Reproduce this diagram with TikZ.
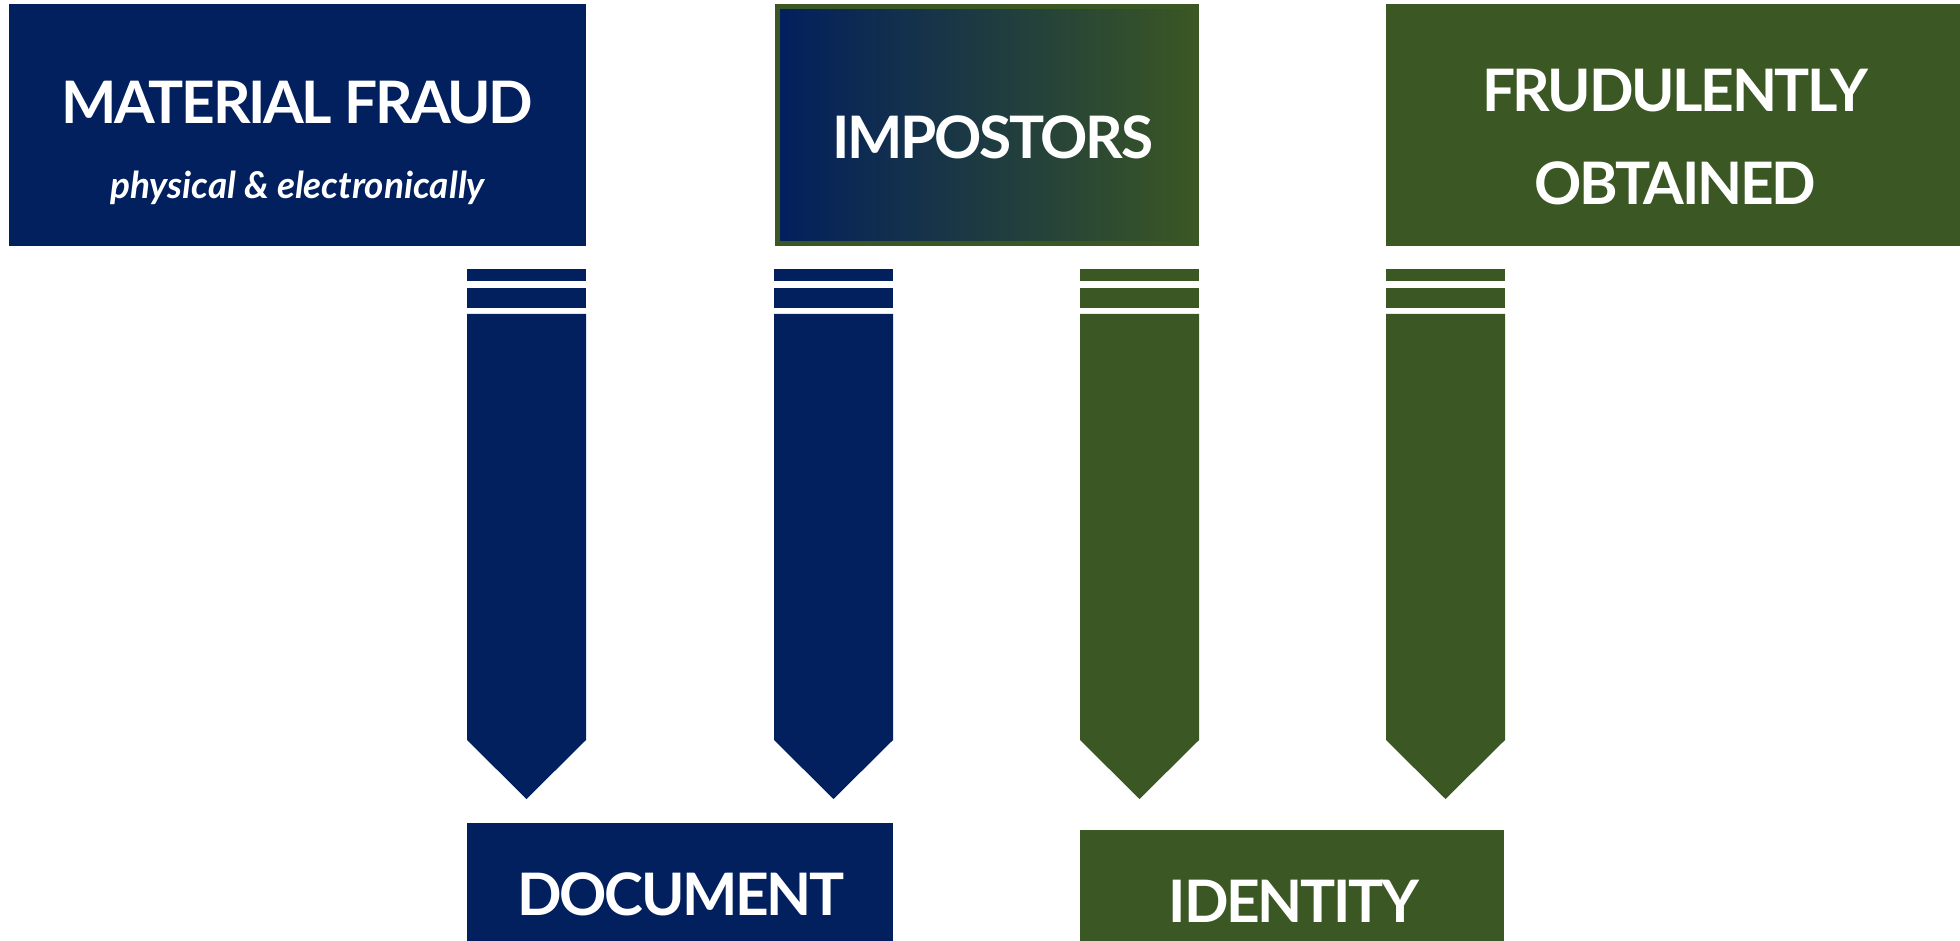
\documentclass[tikz,border=0pt]{standalone}
\usepackage{fontspec}
\setmainfont{Lato}
\definecolor{navy}{HTML}{021F5E}
\definecolor{grn}{HTML}{3A5724}
\tikzset{
  title/.style={text=white, inner sep=0pt, anchor=base, font=\bfseries\fontsize{58.6}{60}\selectfont\addfontfeatures{LetterSpace=-4}},
  subtitle/.style={text=white, inner sep=0pt, anchor=base, font=\bfseries\itshape\fontsize{37}{40}\selectfont},
  panel/.style={rectangle, inner sep=0pt, outer sep=0pt}
}
\begin{document}
\begin{tikzpicture}[x=1pt,y=-1pt]
\useasboundingbox (0,0) rectangle (1960,941);
% top boxes
\node[panel, fill=navy, minimum width=577pt, minimum height=242pt] (mf) at (297.5,125) {};
\node[title] (mft) at (297.5,124) {MATERIAL FRAUD};
\node[subtitle] (mfs) at (297.5,199) {physical \& electronically};

\node[panel, draw=grn, line width=5pt, left color=navy, right color=grn, minimum width=419pt, minimum height=237pt] (imp) at (987,125) {};
\node[title] (impt) at (993,159) {IMPOSTORS};

\node[panel, fill=grn, minimum width=574pt, minimum height=242pt] (fo) at (1673,125) {};
\node[title] (fot1) at (1675,112) {FRUDULENTLY};
\node[title] (fot2) at (1675,205) {OBTAINED};

% pencils
\foreach \L/\c [count=\i] in {467/navy,774/navy,1080/grn,1386/grn}{
  \coordinate (p\i) at (\L,269);
  \fill[\c] (\L,269) rectangle ++(119,12);
  \fill[\c] (\L,288) rectangle ++(119,20);
  \fill[\c] (\L,314) -- ++(119,0) -- ++(0,426) -- ++(-59.5,59) -- ++(-59.5,-59) -- cycle;
}

% bottom boxes
\node[panel, fill=navy, minimum width=426pt, minimum height=118pt] (doc) at (680,882) {};
\node[title] (doct) at (681,915) {DOCUMENT};
\node[panel, fill=grn, minimum width=424pt, minimum height=111pt] (id) at (1292,885.5) {};
\node[title] (idt) at (1294,922) {IDENTITY};
\end{tikzpicture}
\end{document}
